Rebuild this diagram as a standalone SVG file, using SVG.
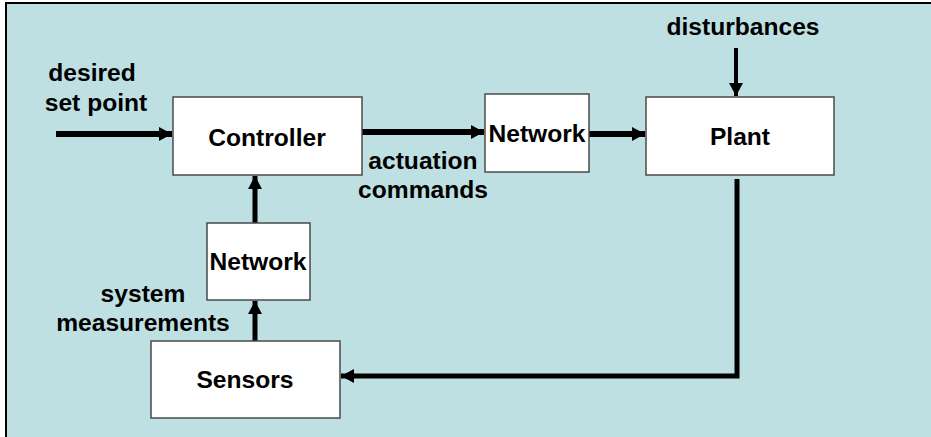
<svg xmlns="http://www.w3.org/2000/svg" width="931" height="437" viewBox="0 0 931 437">
<style>
.box{fill:#ffffff;stroke:#4a4a4a;stroke-width:1.5}
.lbl{font-family:"Liberation Sans",Arial,sans-serif;font-weight:bold;font-size:24.6px;fill:#000;text-anchor:middle}
.wire{fill:none;stroke:#000;stroke-linejoin:miter}
</style>
<defs>
<marker id="ah" markerUnits="userSpaceOnUse" markerWidth="14" markerHeight="14" refX="13" refY="7" orient="auto" viewBox="0 0 14 14">
<path d="M0,0 L13,7 L0,14 z" fill="#000"/>
</marker>
</defs>
<rect x="0" y="0" width="931" height="437" fill="#ffffff"/>
<rect x="6" y="3" width="940" height="450" fill="#BEE0E3" stroke="#000" stroke-width="2"/>

<g id="connectors">
<path class="wire" d="M56,134 L172,134" stroke-width="6" marker-end="url(#ah)"/>
<path class="wire" d="M362,132 L484,132" stroke-width="6" marker-end="url(#ah)"/>
<path class="wire" d="M589,134 L645,134" stroke-width="6" marker-end="url(#ah)"/>
<path class="wire" d="M736,48 L736,96" stroke-width="4" marker-end="url(#ah)"/>
<path class="wire" d="M737,179 L737,376 L341,376" stroke-width="5" marker-end="url(#ah)"/>
<path class="wire" d="M255,223 L255,176" stroke-width="5" marker-end="url(#ah)"/>
<path class="wire" d="M255,341 L255,301" stroke-width="5" marker-end="url(#ah)"/>
</g>

<g id="controller">
<rect class="box" x="173" y="97" width="189" height="78"/>
<text class="lbl" x="267" y="146">Controller</text>
</g>
<g id="network-top">
<rect class="box" x="485" y="94" width="104" height="78"/>
<text class="lbl" x="537" y="142">Network</text>
</g>
<g id="plant">
<rect class="box" x="646" y="97" width="188" height="78"/>
<text class="lbl" x="740" y="145">Plant</text>
</g>
<g id="network-bottom">
<rect class="box" x="207" y="223" width="103" height="77"/>
<text class="lbl" x="258" y="270">Network</text>
</g>
<g id="sensors">
<rect class="box" x="151" y="341" width="189" height="77"/>
<text class="lbl" x="245" y="388">Sensors</text>
</g>

<g id="labels">
<text class="lbl" x="92" y="81">desired</text>
<text class="lbl" x="96" y="111">set point</text>
<text class="lbl" x="743" y="35">disturbances</text>
<text class="lbl" x="423" y="169">actuation</text>
<text class="lbl" x="423" y="198">commands</text>
<text class="lbl" x="143" y="302">system</text>
<text class="lbl" x="143" y="331">measurements</text>
</g>
</svg>
